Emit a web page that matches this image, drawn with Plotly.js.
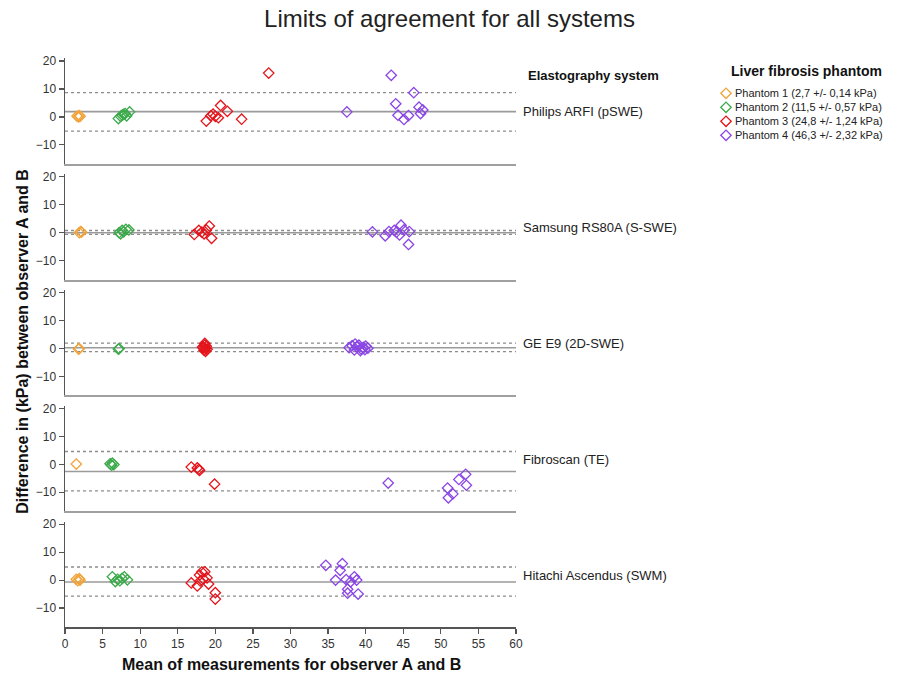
<!DOCTYPE html>
<html><head><meta charset="utf-8">
<script src="https://cdn.plot.ly/plotly-3.0.1.min.js"></script>
<style>html,body{margin:0;padding:0;background:#fff}</style>
</head><body><div id="chart" style="width:897px;height:676px"></div>
<script>
// ---------- data ----------
const systems = ["Philips ARFI (pSWE)", "Samsung RS80A (S-SWE)", "GE E9 (2D-SWE)", "Fibroscan (TE)", "Hitachi Ascendus (SWM)"];
const phantoms = ["Phantom 1 (2,7 +/- 0,14 kPa)", "Phantom 2 (11,5 +/- 0,57 kPa)", "Phantom 3 (24,8 +/- 1,24 kPa)", "Phantom 4 (46,3 +/- 2,32 kPa)"];
const phantomColors = ["#F2A33A", "#3BAA4A", "#E5141B", "#8A45E6"];

// mean difference and limits of agreement per system
const meanDiff = [1.9, 0.0, 0.3, -2.6, -0.7];
const upperLoA = [8.7, 0.8, 1.9, 4.6, 4.7];
const lowerLoA = [-5.1, -0.6, -1.1, -9.5, -5.7];

// Philips ARFI (pSWE): [phantom1, phantom2, phantom3, phantom4]
const philipsX = [
  [1.6, 1.8, 1.9, 2.0],
  [7.1, 7.4, 7.6, 7.8, 8.0, 8.2, 8.6],
  [18.8, 19.4, 19.7, 20.0, 20.4, 20.7, 21.6, 23.5, 27.1],
  [37.5, 43.4, 44.0, 44.3, 45.1, 45.7, 46.4, 47.1, 47.3, 47.6]
];
const philipsY = [
  [0.3, 0.0, 0.5, 0.2],
  [-0.6, 0.2, 0.6, 0.9, 1.2, 0.4, 1.8],
  [-1.5, 0.4, 1.0, 0.2, -0.3, 4.1, 2.0, -0.8, 15.7],
  [1.8, 14.9, 4.7, 0.6, -0.9, 0.5, 8.7, 3.5, 1.2, 2.5]
];

// Samsung RS80A (S-SWE)
const samsungX = [
  [1.9, 2.1, 2.2],
  [7.2, 7.4, 7.6, 7.8, 8.1, 8.5],
  [17.2, 17.8, 18.2, 18.5, 18.8, 19.2, 19.5],
  [40.9, 42.6, 43.1, 43.8, 44.1, 44.7, 44.5, 45.1, 45.8, 45.7]
];
const samsungY = [
  [0.0, 0.4, 0.2],
  [0.0, -0.4, 0.8, 0.3, 1.2, 1.0],
  [-0.6, 0.8, 0.2, -0.4, 1.0, 2.4, -2.0],
  [0.3, -1.1, 0.4, 0.8, 0.2, 2.7, -0.8, 1.0, 0.4, -4.2]
];

// GE E9 (2D-SWE)
const geX = [
  [1.8, 1.9],
  [7.1, 7.2],
  [18.3, 18.5, 18.6, 18.7, 18.8, 18.9, 18.6, 18.7, 18.4],
  [37.8, 38.2, 38.5, 38.8, 39.1, 39.4, 39.7, 40.0, 40.3, 38.6, 39.3, 39.9]
];
const geY = [
  [-0.2, 0.0],
  [-0.2, 0.0],
  [0.5, -0.6, 1.2, 0.0, 0.8, -0.3, 1.8, -1.0, 0.2],
  [0.3, 1.0, -0.5, 0.6, 1.2, -0.2, 0.4, 0.9, 0.1, 1.6, -0.8, -0.4]
];

// Fibroscan (TE)
const fibroX = [
  [1.5],
  [6.0, 6.2, 6.3, 6.5],
  [16.8, 17.6, 17.8, 17.9, 19.9],
  [43.0, 50.9, 51.6, 51.0, 52.4, 53.3, 53.4]
];
const fibroY = [
  [0.1],
  [0.2, -0.3, 0.4, -0.1],
  [-1.0, -1.3, -1.8, -2.2, -7.1],
  [-6.7, -8.5, -10.6, -12.0, -5.4, -3.6, -7.5]
];

// Hitachi Ascendus (SWM)
const hitachiX = [
  [1.5, 1.7, 1.9, 2.0],
  [6.3, 6.7, 7.0, 7.3, 7.6, 7.9, 8.3],
  [16.8, 17.6, 17.9, 18.2, 18.4, 18.6, 18.9, 19.1, 20.0, 20.0, 18.0],
  [34.7, 36.9, 36.6, 36.0, 37.4, 38.5, 38.8, 38.0, 37.6, 37.6, 39.0]
];
const hitachiY = [
  [0.3, -0.2, 0.5, 0.0],
  [1.2, -0.5, 0.3, -0.2, 0.6, 1.2, 0.1],
  [-1.0, -2.1, 1.8, 2.9, 0.4, 3.0, 0.8, -1.4, -4.5, -6.8, -0.3],
  [5.3, 5.9, 3.5, 0.0, 0.2, 1.2, 0.0, -0.6, -3.3, -4.7, -5.0]
];

const xTickVals = [0, 5, 10, 15, 20, 25, 30, 35, 40, 45, 50, 55, 60];
const yTickVals = [-10, 0, 10, 20];

const allX = [philipsX, samsungX, geX, fibroX, hitachiX];
const allY = [philipsY, samsungY, geY, fibroY, hitachiY];

// ---------- layout helpers ----------
const FONT = "Liberation Sans, Arial, Helvetica, sans-serif";
const W = 897, H = 676;
const M = {l: 65, r: 0, t: 47.7, b: 49.3};
const plotW = W - M.l - M.r, plotH = H - M.t - M.b;
const px2x = p => (p - M.l) / plotW;
const py2y = p => (H - M.b - p) / plotH;
const mainRight = px2x(516);

const data = [];
const shapes = [];
const annotations = [];
const layout = {
  width: W, height: H,
  margin: M,
  paper_bgcolor: "#ffffff",
  plot_bgcolor: "#ffffff",
  showlegend: false,
  font: {family: FONT, color: "#333"},
  title: {
    text: "Limits of agreement for all systems",
    font: {family: FONT, size: 24, color: "#222"},
    xref: "container", yref: "container",
    x: 449.5 / W, y: 1 - 19 / H, xanchor: "center", yanchor: "middle"
  },
  shapes: shapes,
  annotations: annotations
};

const nSys = systems.length;
for (let s = 0; s < nSys; s++) {
  const n = s === 0 ? "" : String(s + 1);
  const base = (nSys - 1 - s) * 0.2;
  const isBottom = s === nSys - 1;
  layout["xaxis" + n] = {
    domain: [0, mainRight], anchor: "y" + n, range: [0, 60],
    showgrid: false, zeroline: false, showline: true,
    linecolor: isBottom ? "#555" : "#a0a0a0", linewidth: isBottom ? 1.5 : 2,
    ticks: isBottom ? "outside" : "", ticklen: 5, tickcolor: "#555", tickwidth: 1.2,
    tickmode: "array", tickvals: xTickVals, showticklabels: isBottom,
    tickfont: {family: FONT, size: 12, color: "#333"},
    fixedrange: true
  };
  layout["yaxis" + n] = {
    domain: [base, base + 0.1822], anchor: "x" + n, range: [-16.8, 21],
    showgrid: false, zeroline: false, showline: true,
    linecolor: "#555", linewidth: 1.5,
    ticks: "outside", ticklen: 5, tickcolor: "#555", tickwidth: 1.2,
    tickmode: "array", tickvals: yTickVals,
    tickfont: {family: FONT, size: 12, color: "#333"},
    fixedrange: true
  };
  // mean line and limits of agreement
  shapes.push({type: "line", layer: "below", xref: "x" + n + " domain", x0: 0, x1: 1,
    yref: "y" + n, y0: meanDiff[s], y1: meanDiff[s], line: {color: "#9a9a9a", width: 1.6}});
  [upperLoA[s], lowerLoA[s]].forEach(v => shapes.push({type: "line", layer: "below",
    xref: "x" + n + " domain", x0: 0, x1: 1, yref: "y" + n, y0: v, y1: v,
    line: {color: "#8c8c8c", width: 1.3, dash: "dot"}}));
  // points
  for (let p = 0; p < phantoms.length; p++) {
    data.push({
      type: "scatter", mode: "markers", name: phantoms[p],
      x: allX[s][p], y: allY[s][p],
      xaxis: "x" + n, yaxis: "y" + n,
      marker: {symbol: "diamond-open", size: 8, color: phantomColors[p], line: {width: 1.3}},
      hoverinfo: "x+y+name", cliponaxis: false
    });
  }
  // system label
  annotations.push({xref: "paper", yref: "y" + n, x: px2x(520.5), y: 1.8,
    xanchor: "left", yanchor: "middle", showarrow: false, text: systems[s],
    font: {family: FONT, size: 13, color: "#222"}});
}

// ---------- custom legend (phantom key) on a hidden axis pair ----------
const legendRowsTop = 86, legendRowH = 14;
layout.xaxis6 = {domain: [px2x(716), px2x(736)], anchor: "y6", range: [-1, 1], visible: false, fixedrange: true};
layout.yaxis6 = {domain: [py2y(legendRowsTop + legendRowH * phantoms.length), py2y(legendRowsTop)],
  anchor: "x6", range: [phantoms.length - 0.5, -0.5], visible: false, fixedrange: true};
data.push({
  type: "scatter", mode: "markers", xaxis: "x6", yaxis: "y6", hoverinfo: "skip",
  x: phantoms.map(() => 0), y: phantoms.map((_, i) => i),
  marker: {symbol: "diamond-open", size: 8, color: phantomColors, line: {width: 1.3}},
  cliponaxis: false
});
phantoms.forEach((name, i) => annotations.push({
  xref: "paper", yref: "y6", x: px2x(733), y: i,
  xanchor: "left", yanchor: "middle", showarrow: false,
  text: name, font: {family: FONT, size: 11, color: "#222"}
}));

// headers
annotations.push({xref: "paper", yref: "paper", x: px2x(593), y: py2y(75),
  xanchor: "center", yanchor: "middle", showarrow: false,
  text: "<b>Elastography system</b>", font: {family: FONT, size: 13, color: "#111"}});
annotations.push({xref: "paper", yref: "paper", x: px2x(806.5), y: py2y(70.5),
  xanchor: "center", yanchor: "middle", showarrow: false,
  text: "<b>Liver fibrosis phantom</b>", font: {family: FONT, size: 14, color: "#111"}});

// axis titles
annotations.push({xref: "paper", yref: "paper", x: px2x(291), y: py2y(664),
  xanchor: "center", yanchor: "middle", showarrow: false,
  text: "<b>Mean of measurements for observer A and B</b>",
  font: {family: FONT, size: 16, color: "#111"}});
annotations.push({xref: "paper", yref: "paper", x: px2x(22.5), y: py2y(341),
  xanchor: "center", yanchor: "middle", showarrow: false, textangle: -90,
  text: "<b>Difference in (kPa) between observer A and B</b>",
  font: {family: FONT, size: 16, color: "#111"}});

Plotly.newPlot("chart", data, layout, {displayModeBar: false, staticPlot: true});
</script>
</body></html>
